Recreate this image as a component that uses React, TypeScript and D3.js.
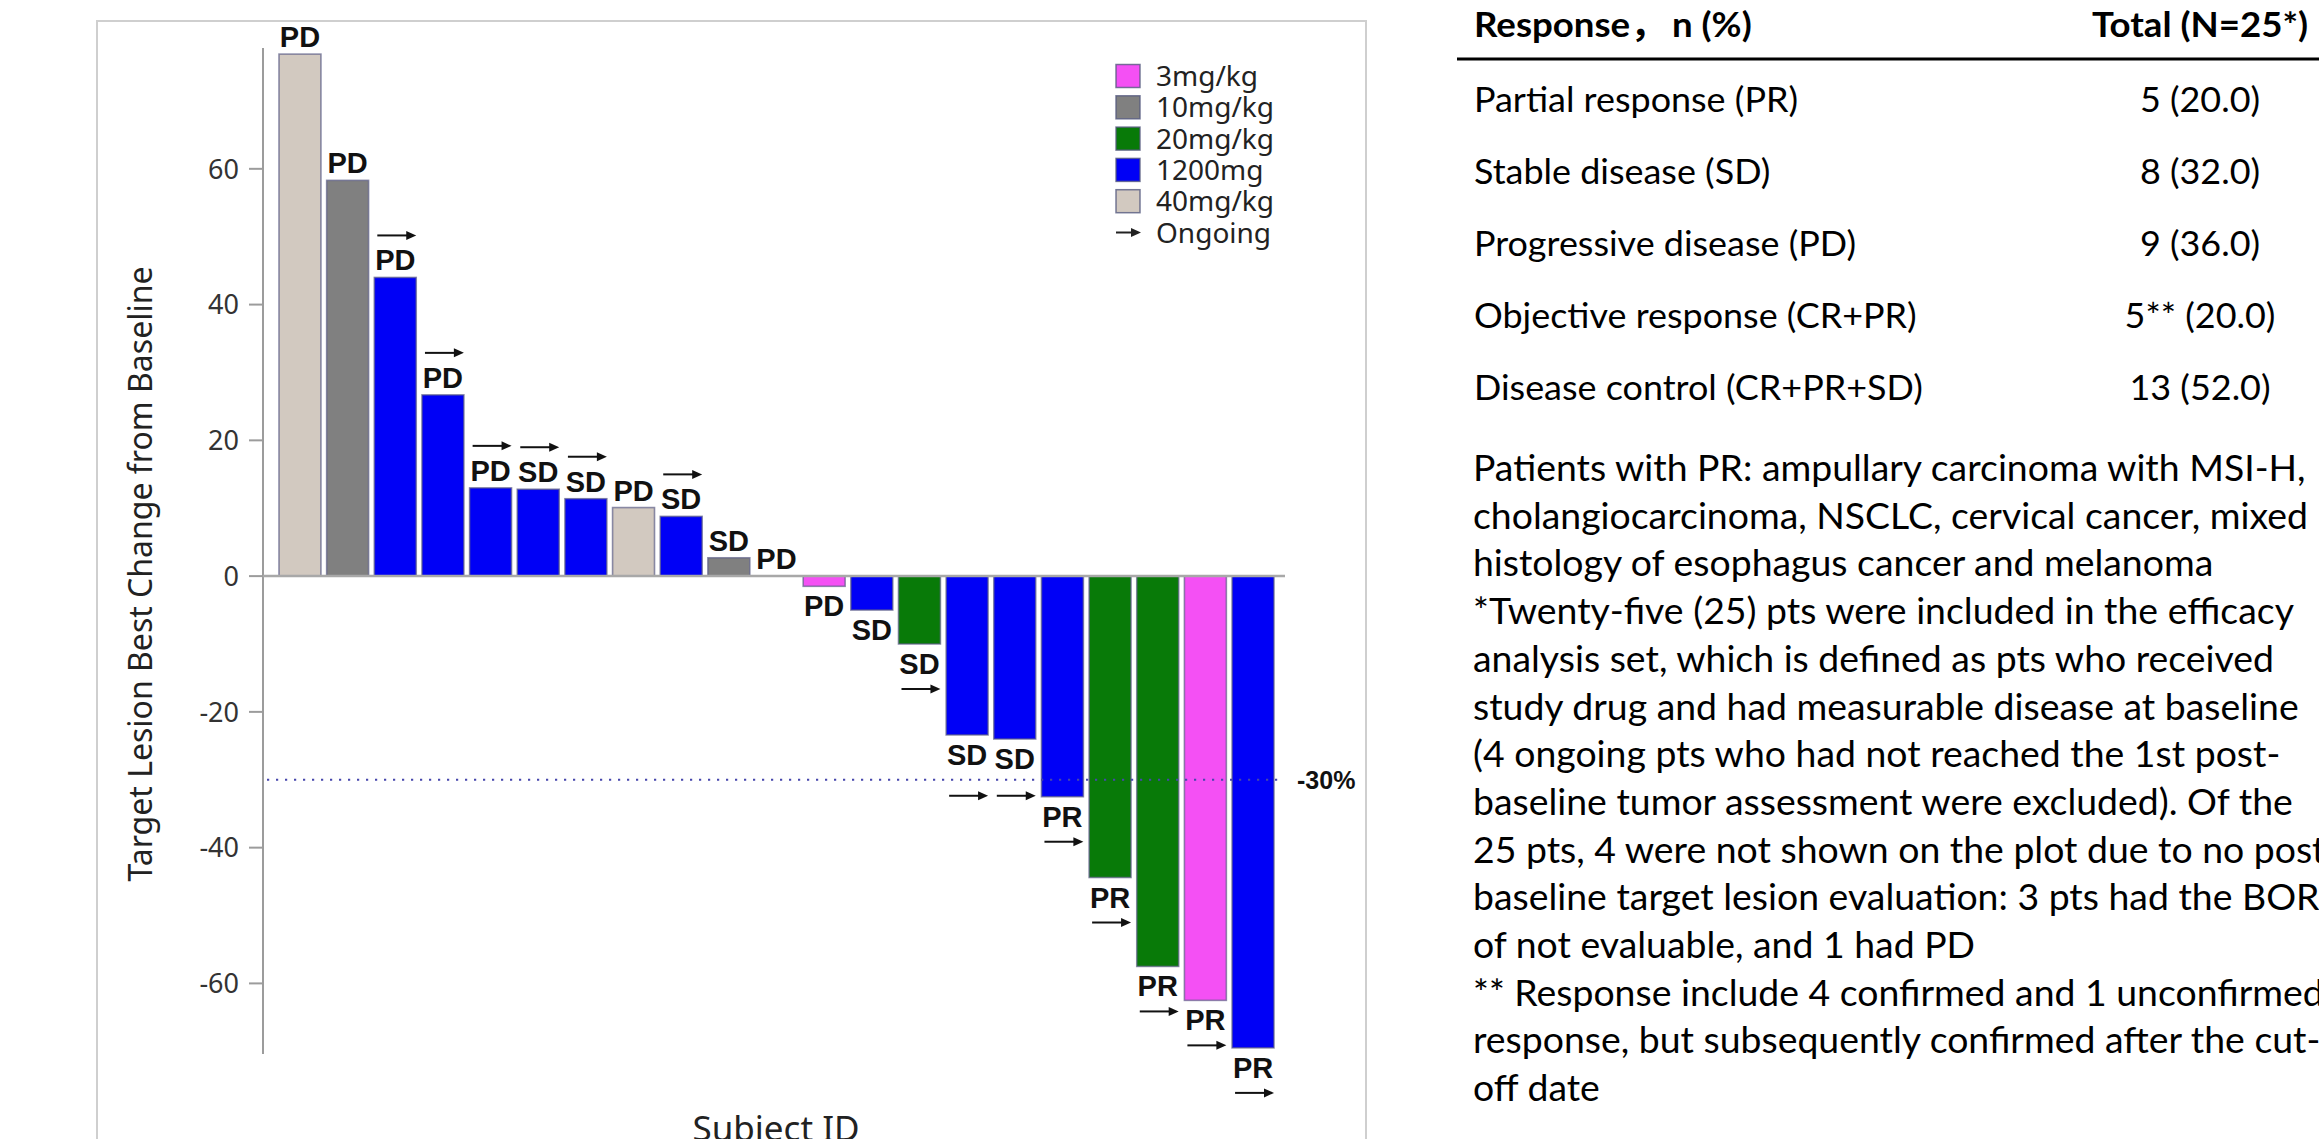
import React, { useMemo } from 'react';
import * as d3 from 'd3';

const W = 2319;
const H = 1139;

// Subjects in waterfall order (best target-lesion change, % from baseline)
const subjectIds = [
  'S01', 'S02', 'S03', 'S04', 'S05', 'S06', 'S07', 'S08', 'S09', 'S10', 'S11',
  'S12', 'S13', 'S14', 'S15', 'S16', 'S17', 'S18', 'S19', 'S20', 'S21',
];
const bestChange = [
  76.9, 58.3, 44.0, 26.7, 13.0, 12.8, 11.4, 10.1, 8.8, 2.7, 0,
  -1.5, -5.0, -10.0, -23.4, -24.0, -32.5, -44.4, -57.5, -62.5, -69.5,
];
const doseGroup = [
  '40mg/kg', '10mg/kg', '1200mg', '1200mg', '1200mg', '1200mg', '1200mg', '40mg/kg', '1200mg', '10mg/kg', '20mg/kg',
  '3mg/kg', '1200mg', '20mg/kg', '1200mg', '1200mg', '1200mg', '20mg/kg', '20mg/kg', '3mg/kg', '1200mg',
];
const bestResponse = [
  'PD', 'PD', 'PD', 'PD', 'PD', 'SD', 'SD', 'PD', 'SD', 'SD', 'PD',
  'PD', 'SD', 'SD', 'SD', 'SD', 'PR', 'PR', 'PR', 'PR', 'PR',
];
const ongoing = [
  false, false, true, true, true, true, true, false, true, false, false,
  false, false, true, true, true, true, true, true, true, true,
];

const doseLevels = ['3mg/kg', '10mg/kg', '20mg/kg', '1200mg', '40mg/kg'];
const doseColors = ['#F450F4', '#808080', '#087A08', '#0000F6', '#D2C9C0'];
const ongoingLabel = 'Ongoing';

const yTicks = [60, 40, 20, 0, -20, -40, -60];
const yDomain: [number, number] = [-70.4, 77.8];
const thresholdValue = -30;
const thresholdLabel = '-30%';

const yAxisTitle = 'Target Lesion Best Change from Baseline';
const xAxisTitle = 'Subject ID';

// Response summary table
const headerLabel = 'Response，';
const headerUnit = 'n (%)';
const headerTotal = 'Total (N=25*)';
const responseRows = [
  'Partial response (PR)',
  'Stable disease (SD)',
  'Progressive disease (PD)',
  'Objective response (CR+PR)',
  'Disease control (CR+PR+SD)',
];
const responseCounts = ['5 (20.0)', '8 (32.0)', '9 (36.0)', '5** (20.0)', '13 (52.0)'];
const footnoteLines = [
  'Patients with PR: ampullary carcinoma with MSI-H,',
  'cholangiocarcinoma, NSCLC, cervical cancer, mixed',
  'histology of esophagus cancer and melanoma',
  '*Twenty-five (25) pts were included in the efficacy',
  'analysis set, which is defined as pts who received',
  'study drug and had measurable disease at baseline',
  '(4 ongoing pts who had not reached the 1st post-',
  'baseline tumor assessment were excluded). Of the',
  '25 pts, 4 were not shown on the plot due to no post-',
  'baseline target lesion evaluation: 3 pts had the BOR',
  'of not evaluable, and 1 had PD',
  '** Response include 4 confirmed and 1 unconfirmed',
  'response, but subsequently confirmed after the cut-',
  'off date',
];

const CHART_FONT = '"Noto Sans", "DejaVu Sans", sans-serif';
const LABEL_FONT = '"Liberation Sans", Arial, sans-serif';
const TABLE_FONT = 'Lato, "Noto Sans CJK SC", sans-serif';
const TABLE_SIZE = 34.6;
const NOTE_SIZE = 36;

let measureCtx: CanvasRenderingContext2D | null = null;
function textWidth(text: string, font: string): number {
  if (typeof document === 'undefined') return 0;
  if (!measureCtx) measureCtx = document.createElement('canvas').getContext('2d');
  if (!measureCtx) return 0;
  measureCtx.font = font;
  return measureCtx.measureText(text).width;
}

function Arrow({ x1, x2, y, color = '#111' }: { x1: number; x2: number; y: number; color?: string }) {
  const head = 10;
  const half = 4.5;
  return (
    <g>
      <line x1={x1} x2={x2 - head + 1} y1={y} y2={y} stroke={color} strokeWidth={2} />
      <path d={`M${x2},${y} L${x2 - head},${y - half} L${x2 - head},${y + half} Z`} fill={color} />
    </g>
  );
}

export default function App() {
  const x = d3.scaleBand<string>().domain(subjectIds).range([279, 1274]).paddingInner(0.12).paddingOuter(0);
  const y = d3.scaleLinear().domain(yDomain).range([1054, 48]);
  const color = d3.scaleOrdinal<string, string>().domain(doseLevels).range(doseColors);
  const bw = x.bandwidth();
  const axisX = 263;
  const y0 = y(0);
  const yThr = y(thresholdValue);

  // Horizontal condensing so the table face sets to the same measure as a narrow office font
  const { sReg, sBold } = useMemo(() => {
    const wr = textWidth(responseRows[0], `400 ${TABLE_SIZE}px Lato`);
    const wb = textWidth(headerTotal, `700 ${TABLE_SIZE}px Lato`);
    return {
      sReg: wr > 0 ? 324 / wr : 0.92,
      sBold: wb > 0 ? 216 / wb : 0.92,
    };
  }, []);

  const bars = subjectIds.map((id, i) => ({
    id,
    value: bestChange[i],
    dose: doseGroup[i],
    resp: bestResponse[i],
    ongoing: ongoing[i],
  }));

  const rowY = (i: number) => 112 + i * 72;
  const noteY = (i: number) => 481 + i * 47.7;

  return (
    <svg
      width={W}
      height={H}
      viewBox={`0 0 ${W} ${H}`}
      style={{ position: 'absolute', left: 0, top: 0, display: 'block', background: '#fff' }}
    >
      <rect x={0} y={0} width={W} height={H} fill="#fff" />

      {/* chart panel frame */}
      <rect x={97} y={21} width={1269} height={1200} fill="none" stroke="#cfcfcf" strokeWidth={2} />

      {/* y axis */}
      <line x1={axisX} x2={axisX} y1={y(yDomain[1])} y2={y(yDomain[0])} stroke="#9c9c9c" strokeWidth={2} />
      {yTicks.map((t) => (
        <g key={t}>
          <line x1={axisX - 14} x2={axisX} y1={y(t)} y2={y(t)} stroke="#9c9c9c" strokeWidth={2} />
          <text
            x={axisX - 24}
            y={y(t)}
            dy="0.36em"
            textAnchor="end"
            fontFamily={CHART_FONT}
            fontSize={27}
            fill="#333"
          >
            {t}
          </text>
        </g>
      ))}
      <text
        transform={`translate(152,${574}) rotate(-90)`}
        textAnchor="middle"
        fontFamily={CHART_FONT}
        fontSize={32}
        fill="#222"
      >
        {yAxisTitle}
      </text>
      <text x={776} y={1141} textAnchor="middle" fontFamily={CHART_FONT} fontSize={35} fill="#222">
        {xAxisTitle}
      </text>

      {/* bars */}
      {bars.map((b) => {
        const x0 = x(b.id) as number;
        const top = Math.min(y(b.value), y0);
        const h = Math.abs(y(b.value) - y0);
        return h > 0 ? (
          <rect
            key={b.id}
            x={x0}
            y={top}
            width={bw}
            height={h}
            fill={color(b.dose)}
            stroke="#5e6088"
            strokeOpacity={0.7}
            strokeWidth={1.6}
          />
        ) : null;
      })}

      {/* baseline */}
      <line x1={axisX} x2={1285} y1={y0} y2={y0} stroke="#a8a8a8" strokeWidth={2.5} />

      {/* -30% threshold */}
      <line
        x1={axisX + 4}
        x2={1282}
        y1={yThr}
        y2={yThr}
        stroke="#4646ac"
        strokeWidth={2.2}
        strokeDasharray="2.2 6.8"
      />
      <text
        x={1297}
        y={yThr}
        dy="0.36em"
        fontFamily={LABEL_FONT}
        fontWeight={700}
        fontSize={25}
        fill="#111"
      >
        {thresholdLabel}
      </text>

      {/* response labels and ongoing arrows */}
      {bars.map((b) => {
        const x0 = x(b.id) as number;
        const cx = x0 + bw / 2;
        const up = b.value >= 0;
        const base = up ? y(b.value) - 7 : y(b.value) + 30;
        let arrowY = up ? base - 35 : base + 15;
        // keep arrows clear of the threshold line
        if (!up && Math.abs(arrowY - yThr) < 12) arrowY = yThr + 16;
        return (
          <g key={`lab-${b.id}`}>
            <text
              x={cx}
              y={base}
              textAnchor="middle"
              fontFamily={LABEL_FONT}
              fontWeight={700}
              fontSize={29}
              fill="#111"
            >
              {b.resp}
            </text>
            {b.ongoing && <Arrow x1={x0 + 3} x2={x0 + bw} y={arrowY} />}
          </g>
        );
      })}

      {/* legend */}
      {doseLevels.map((d, i) => {
        const cy = 76 + i * 31.3;
        return (
          <g key={d}>
            <rect
              x={1116}
              y={cy - 11.5}
              width={24}
              height={23}
              fill={color(d)}
              stroke="#555a80"
              strokeOpacity={0.8}
              strokeWidth={1.5}
            />
            <text x={1156} y={cy} dy="0.36em" fontFamily={CHART_FONT} fontSize={28} fill="#222">
              {d}
            </text>
          </g>
        );
      })}
      <Arrow x1={1116} x2={1141} y={76 + 5 * 31.3} color="#222" />
      <text x={1156} y={76 + 5 * 31.3} dy="0.36em" fontFamily={CHART_FONT} fontSize={28} fill="#222">
        {ongoingLabel}
      </text>

      {/* response summary table */}
      <g fontFamily={TABLE_FONT} fontSize={TABLE_SIZE} fill="#000">
        <text transform={`translate(1474,37) scale(${sBold},1)`} fontWeight={700}>
          {headerLabel}
        </text>
        <text transform={`translate(1672,37) scale(${sBold},1)`} fontWeight={700}>
          {headerUnit}
        </text>
        <text transform={`translate(2200,37) scale(${sBold},1)`} fontWeight={700} textAnchor="middle">
          {headerTotal}
        </text>
        <line x1={1457} x2={W} y1={59} y2={59} stroke="#000" strokeWidth={3} />
        {responseRows.map((r, i) => (
          <g key={r}>
            <text transform={`translate(1474,${rowY(i)}) scale(${sReg},1)`}>{r}</text>
            <text transform={`translate(2200,${rowY(i)}) scale(${sReg},1)`} textAnchor="middle">
              {responseCounts[i]}
            </text>
          </g>
        ))}
        {footnoteLines.map((l, i) => (
          <text key={i} fontSize={NOTE_SIZE} transform={`translate(1473,${noteY(i)}) scale(${sReg},1)`}>
            {l}
          </text>
        ))}
      </g>
    </svg>
  );
}
